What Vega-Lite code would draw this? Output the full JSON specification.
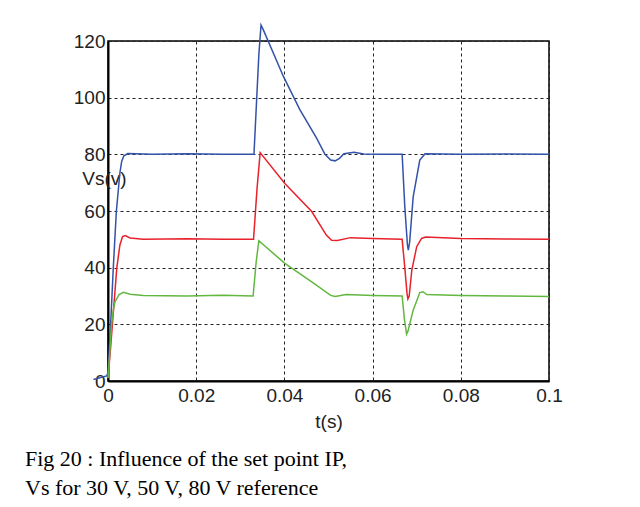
{
  "$schema": "https://vega.github.io/schema/vega-lite/v6.json",
  "width": 441,
  "height": 340,
  "autosize": {"type": "none"},
  "padding": {"left": 108, "top": 41, "right": 91, "bottom": 126},
  "background": "white",
  "title": {
    "text": ["Fig 20 : Influence of the set point IP,", "Vs for 30 V, 50 V, 80 V reference"],
    "orient": "bottom",
    "anchor": "start",
    "frame": "group",
    "dx": -83,
    "offset": 18,
    "font": "Liberation Serif",
    "fontSize": 22,
    "fontWeight": "normal",
    "color": "black",
    "lineHeight": 29
  },
  "config": {
    "view": {"stroke": "black", "strokeWidth": 1.5},
    "axis": {
      "labelFont": "Liberation Sans",
      "labelFontSize": 19,
      "labelColor": "#222",
      "titleFont": "Liberation Sans",
      "titleFontSize": 19,
      "titleFontWeight": "normal",
      "titleColor": "#222",
      "domainColor": "black",
      "domainWidth": 2,
      "ticks": false,
      "grid": true,
      "gridColor": "#222",
      "gridOpacity": 1,
      "gridDash": [3, 3],
      "gridWidth": 1
    }
  },
  "data": {
    "values": [
      {"s": "80 V", "t": -0.0033, "v": 0.5},
      {"s": "80 V", "t": -0.0003, "v": 1.8},
      {"s": "80 V", "t": 0.0, "v": 3},
      {"s": "80 V", "t": 0.0006, "v": 20},
      {"s": "80 V", "t": 0.0012, "v": 40},
      {"s": "80 V", "t": 0.0019, "v": 60},
      {"s": "80 V", "t": 0.0027, "v": 73.5},
      {"s": "80 V", "t": 0.0031, "v": 77.5},
      {"s": "80 V", "t": 0.0036, "v": 79.5},
      {"s": "80 V", "t": 0.0045, "v": 80.3},
      {"s": "80 V", "t": 0.01, "v": 80},
      {"s": "80 V", "t": 0.018, "v": 80.2},
      {"s": "80 V", "t": 0.026, "v": 80},
      {"s": "80 V", "t": 0.0331, "v": 80},
      {"s": "80 V", "t": 0.0342, "v": 115},
      {"s": "80 V", "t": 0.0347, "v": 125.6},
      {"s": "80 V", "t": 0.0352, "v": 124},
      {"s": "80 V", "t": 0.0398, "v": 107.4},
      {"s": "80 V", "t": 0.0435, "v": 95.8},
      {"s": "80 V", "t": 0.0473, "v": 85.7},
      {"s": "80 V", "t": 0.0492, "v": 80},
      {"s": "80 V", "t": 0.0505, "v": 78},
      {"s": "80 V", "t": 0.0515, "v": 77.7},
      {"s": "80 V", "t": 0.0525, "v": 78.6},
      {"s": "80 V", "t": 0.0535, "v": 80.2},
      {"s": "80 V", "t": 0.0558, "v": 80.7},
      {"s": "80 V", "t": 0.058, "v": 80.1},
      {"s": "80 V", "t": 0.062, "v": 80},
      {"s": "80 V", "t": 0.0667, "v": 80},
      {"s": "80 V", "t": 0.0673, "v": 61.5},
      {"s": "80 V", "t": 0.0679, "v": 48},
      {"s": "80 V", "t": 0.0681, "v": 46.2},
      {"s": "80 V", "t": 0.0684, "v": 49},
      {"s": "80 V", "t": 0.0692, "v": 65},
      {"s": "80 V", "t": 0.0707, "v": 78},
      {"s": "80 V", "t": 0.0719, "v": 80.2},
      {"s": "80 V", "t": 0.08, "v": 80},
      {"s": "80 V", "t": 0.09, "v": 80.1},
      {"s": "80 V", "t": 0.1, "v": 80},

      {"s": "50 V", "t": 0.0, "v": 1},
      {"s": "50 V", "t": 0.0005, "v": 10},
      {"s": "50 V", "t": 0.001, "v": 20},
      {"s": "50 V", "t": 0.002, "v": 40},
      {"s": "50 V", "t": 0.0027, "v": 48},
      {"s": "50 V", "t": 0.0033, "v": 51},
      {"s": "50 V", "t": 0.0039, "v": 51.3},
      {"s": "50 V", "t": 0.005, "v": 50.5},
      {"s": "50 V", "t": 0.008, "v": 50},
      {"s": "50 V", "t": 0.018, "v": 50.2},
      {"s": "50 V", "t": 0.026, "v": 50},
      {"s": "50 V", "t": 0.033, "v": 50},
      {"s": "50 V", "t": 0.0338, "v": 68},
      {"s": "50 V", "t": 0.0345, "v": 80.6},
      {"s": "50 V", "t": 0.0401, "v": 69.7},
      {"s": "50 V", "t": 0.0462, "v": 59.8},
      {"s": "50 V", "t": 0.0495, "v": 51.5},
      {"s": "50 V", "t": 0.0507, "v": 49.7},
      {"s": "50 V", "t": 0.052, "v": 49.6},
      {"s": "50 V", "t": 0.055, "v": 50.6},
      {"s": "50 V", "t": 0.06, "v": 50.3},
      {"s": "50 V", "t": 0.0667, "v": 50},
      {"s": "50 V", "t": 0.0673, "v": 40},
      {"s": "50 V", "t": 0.0678, "v": 31},
      {"s": "50 V", "t": 0.068, "v": 29},
      {"s": "50 V", "t": 0.0683, "v": 30},
      {"s": "50 V", "t": 0.0689, "v": 39.2},
      {"s": "50 V", "t": 0.07, "v": 47.4},
      {"s": "50 V", "t": 0.0711, "v": 50.3},
      {"s": "50 V", "t": 0.072, "v": 50.8},
      {"s": "50 V", "t": 0.08, "v": 50.3},
      {"s": "50 V", "t": 0.09, "v": 50.1},
      {"s": "50 V", "t": 0.1, "v": 50},

      {"s": "30 V", "t": 0.0, "v": 1},
      {"s": "30 V", "t": 0.0004, "v": 10},
      {"s": "30 V", "t": 0.0008, "v": 20},
      {"s": "30 V", "t": 0.0012, "v": 25},
      {"s": "30 V", "t": 0.0016, "v": 28},
      {"s": "30 V", "t": 0.0025, "v": 30.5},
      {"s": "30 V", "t": 0.0035, "v": 31.3},
      {"s": "30 V", "t": 0.005, "v": 30.6},
      {"s": "30 V", "t": 0.008, "v": 30.2},
      {"s": "30 V", "t": 0.018, "v": 30},
      {"s": "30 V", "t": 0.026, "v": 30.3},
      {"s": "30 V", "t": 0.0329, "v": 30},
      {"s": "30 V", "t": 0.0336, "v": 42},
      {"s": "30 V", "t": 0.0342, "v": 49.5},
      {"s": "30 V", "t": 0.0401, "v": 41.5},
      {"s": "30 V", "t": 0.0462, "v": 35},
      {"s": "30 V", "t": 0.0505, "v": 30.2},
      {"s": "30 V", "t": 0.0515, "v": 29.8},
      {"s": "30 V", "t": 0.054, "v": 30.5},
      {"s": "30 V", "t": 0.06, "v": 30.2},
      {"s": "30 V", "t": 0.0667, "v": 30},
      {"s": "30 V", "t": 0.0672, "v": 22},
      {"s": "30 V", "t": 0.0677, "v": 16.5},
      {"s": "30 V", "t": 0.068, "v": 17.5},
      {"s": "30 V", "t": 0.0692, "v": 25},
      {"s": "30 V", "t": 0.0707, "v": 31.2},
      {"s": "30 V", "t": 0.0714, "v": 31.5},
      {"s": "30 V", "t": 0.0723, "v": 30.5},
      {"s": "30 V", "t": 0.08, "v": 30.2},
      {"s": "30 V", "t": 0.09, "v": 30},
      {"s": "30 V", "t": 0.1, "v": 29.8}
    ]
  },
  "mark": {"type": "line", "clip": false, "strokeWidth": 1.5},
  "encoding": {
    "x": {
      "field": "t",
      "type": "quantitative",
      "scale": {"domain": [0, 0.1], "nice": false, "zero": false},
      "axis": {
        "values": [0, 0.02, 0.04, 0.06, 0.08, 0.1],
        "format": "~g",
        "title": "t(s)",
        "titleY": 46,
        "titleBaseline": "alphabetic",
        "labelPadding": 5,
        "labelFlush": false
      }
    },
    "y": {
      "field": "v",
      "type": "quantitative",
      "scale": {"domain": [0, 120], "nice": false},
      "axis": {
        "values": [0, 20, 40, 60, 80, 100, 120],
        "title": "Vs(v)",
        "titleAngle": 0,
        "titleX": -4,
        "titleY": 137,
        "titleAlign": "center",
        "titleBaseline": "middle",
        "labelPadding": 3
      }
    },
    "color": {
      "field": "s",
      "type": "nominal",
      "scale": {"domain": ["80 V", "50 V", "30 V"], "range": ["#3352a8", "#e8212b", "#62b741"]},
      "legend": null
    },
    "order": {"field": "t", "type": "quantitative"}
  }
}
